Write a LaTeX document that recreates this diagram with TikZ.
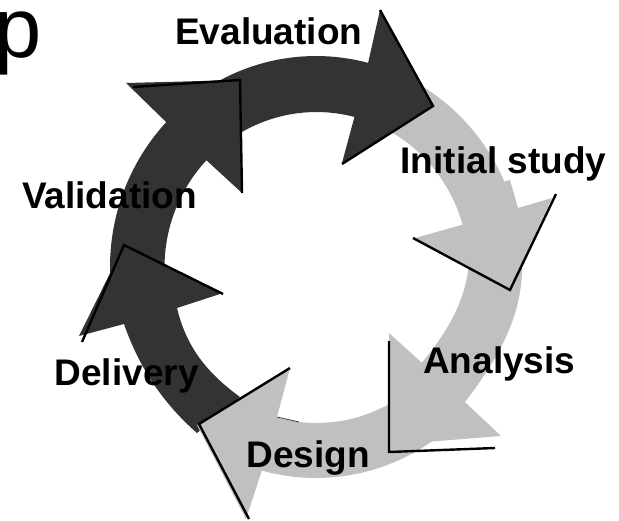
\documentclass[tikz,border=0pt]{standalone}
\usepackage{fontspec}
\setmainfont{Liberation Sans}
\definecolor{bandlight}{HTML}{C0C0C0}
\definecolor{banddark}{HTML}{333333}
\tikzset{
  lighthead/.style={fill=bandlight},
  darkhead/.style={fill=banddark},
  edgeline/.style={draw=black,line width=2.4pt,line join=miter,line cap=butt},
  stagelabel/.style={font=\fontsize{37}{40}\selectfont\bfseries,anchor=base west,inner sep=0pt,text=black},
  titleletter/.style={font=\fontsize{85}{90}\selectfont,anchor=base west,inner sep=0pt,text=black}
}
\begin{document}
\begin{tikzpicture}[x=1pt,y=-1pt]
\useasboundingbox (0,0) rectangle (619,520);
\clip (0,0) rectangle (619,520);
\fill[white] (0,0) rectangle (619,520);
% light band: Evaluation head to Analysis head
\fill[bandlight] plot[domain=-65:0,samples=40] ({316+206*cos(\x)},{267+211*sin(\x)})
  .. controls (522,310) and (505,350) .. (465,402)
  -- (420,365) .. controls (445,335) and (464,305) .. (468.5,267.5)
  -- plot[domain=0:-65,samples=40] ({316.5+152*cos(\x)},{267.5+155.5*sin(\x)}) -- cycle;
% light band: Analysis head to Design head
\fill[bandlight] plot[domain=55:110,samples=30] ({316+206*cos(\x)},{267+211*sin(\x)})
  -- plot[domain=110:55,samples=30] ({316.5+152*cos(\x)},{267.5+155.5*sin(\x)}) -- cycle;
% dark band: Delivery head to Evaluation head
\fill[banddark] plot[domain=170:298,samples=70] ({316+206*cos(\x)},{267+211*sin(\x)})
  -- plot[domain=298:170,samples=70] ({316.5+152*cos(\x)},{267.5+155.5*sin(\x)}) -- cycle;
% dark band: Design head to Delivery head
\fill[banddark] (122,318) -- (124,324) .. controls (140,370) and (165,405) .. (197,433)
  -- (240,397) .. controls (210,375) and (187,350) .. (177,308) -- (172,298) -- cycle;
% shoulder before the Initial study head
\fill[bandlight] (500,183) -- (510,180) -- (518,208) -- (505,212) -- cycle;
% arrow heads
\fill[lighthead] (552,198) -- (518,208) -- (458,226) -- (415,238) -- (510,288) -- cycle;
\fill[lighthead] (389,333) -- (422,363) -- (467,404) -- (501,436) -- (425,442) -- (389,445) -- cycle;
\fill[lighthead] (197,425) -- (290,368) -- (277,417) -- (261,473) -- (246,519) -- cycle;
\fill[darkhead] (124,245) -- (223,293) -- (177,308) -- (124,324) -- (79,336) -- cycle;
\fill[darkhead] (240,80) -- (126,83) -- (163,119) -- (204,158) -- (242,193) -- cycle;
\fill[darkhead] (433,105) -- (380,10) -- (369,59) -- (355,115) -- (342,163) -- cycle;
% thin dark sliver at the Design notch
\draw[banddark,line width=0.8pt] (277,417) -- (299,422);
% black edges
\draw[edgeline] (380,10) -- (433,106) -- (342,164);
\draw[edgeline] (133,87) -- (240,80) -- (242,193);
\draw[edgeline] (82,342) -- (124,245) -- (223,294);
\draw[edgeline] (290,368) -- (199,424) -- (249,519);
\draw[edgeline] (389,341) -- (389,452) -- (495,448);
\draw[edgeline] (413,238) -- (510,290) -- (556,194);
% labels
\node[titleletter] (titlep) at (-6,57) {p};
\node[stagelabel] (evaluation) at (175,44) {Evaluation};
\node[stagelabel] (initial) at (400.5,173) {Initial study};
\node[stagelabel] (analysis) at (423,373) {Analysis};
\node[stagelabel] (design) at (246.5,467) {Design};
\node[stagelabel] (delivery) at (54.5,385) {Delivery};
\node[stagelabel] (validation) at (22,208) {Validation};
\end{tikzpicture}
\end{document}
